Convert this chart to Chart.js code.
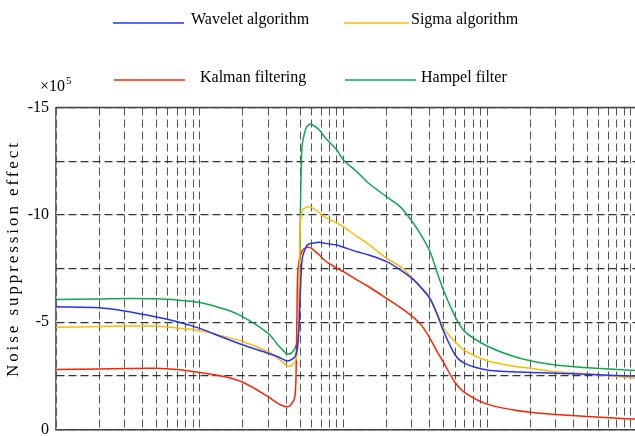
<!DOCTYPE html>
<html>
<head>
<meta charset="utf-8">
<script src="https://cdn.jsdelivr.net/npm/chart.js@4.4.1/dist/chart.umd.min.js"></script>
<style>
  html, body { margin: 0; padding: 0; background: #fff; }
</style>
</head>
<body>
<canvas id="noise-chart" width="635" height="436"></canvas>
<script>
// x positions (log axis, no labels shown)
const xValues = [1, 2, 3, 5, 7, 10, 15, 20, 30, 35, 40, 43, 46, 47, 48, 49, 50, 51, 52, 55, 57, 60, 68, 75, 90, 100,
    125, 150, 200, 250, 300, 350, 400, 450, 500, 600, 700, 1000, 1500, 2000, 3000, 5000, 10000, 10700];

// values in units of 1e5
const wavelet = [-5.72, -5.67, -5.52, -5.24, -5.02, -4.71, -4.25, -3.94, -3.55, -3.39, -3.20, -3.24, -3.39, -3.55, -3.86, -4.63,
    -6.19, -7.43, -8.05, -8.51, -8.63, -8.67, -8.72, -8.67, -8.59, -8.49, -8.28, -8.13, -7.82, -7.43, -7.04, -6.58, -6.10,
    -5.35, -4.55, -3.47, -3.08, -2.77, -2.69, -2.66, -2.62, -2.57, -2.49, -2.49];
const sigma = [-4.76, -4.80, -4.82, -4.82, -4.73, -4.61, -4.32, -4.09, -3.62, -3.32, -3.00, -2.96, -3.16, -3.32, -3.70, -5.57,
    -9.45, -10.07, -10.22, -10.35, -10.38, -10.35, -10.10, -9.88, -9.62, -9.45, -8.98, -8.62, -7.97, -7.58, -7.08, -6.62, -6.14,
    -5.41, -4.70, -4.09, -3.67, -3.20, -2.96, -2.85, -2.69, -2.59, -2.41, -2.40];
const kalman = [-2.80, -2.82, -2.84, -2.85, -2.79, -2.66, -2.46, -2.20, -1.53, -1.22, -1.06, -1.14, -1.53, -3.24, -7.12, -7.82,
    -8.05, -8.23, -8.36, -8.47, -8.49, -8.44, -8.13, -7.85, -7.52, -7.35, -6.96, -6.65, -6.11, -5.68, -5.28, -4.85, -4.25,
    -3.62, -3.10, -2.18, -1.72, -1.18, -0.92, -0.80, -0.70, -0.60, -0.49, -0.49];
const hampel = [-6.06, -6.08, -6.10, -6.09, -6.03, -5.92, -5.60, -5.25, -4.48, -3.94, -3.55, -3.54, -3.78, -3.94, -4.17, -5.10,
    -9.29, -12.55, -13.39, -14.04, -14.18, -14.22, -13.95, -13.58, -13.02, -12.55, -11.99, -11.47, -10.84, -10.36, -9.70, -9.02,
    -8.30, -7.30, -6.45, -5.25, -4.56, -3.89, -3.42, -3.20, -3.00, -2.88, -2.76, -2.75];

const yTicks = [-15, -12.5, -10, -7.5, -5, -2.5, 0];
const yLabelled = [-15, -10, -5, 0];

const seriesNames = ['Wavelet algorithm', 'Sigma algorithm', 'Kalman filtering', 'Hampel filter'];
const seriesColors = ['#2233ff', '#ffbb00', '#ff2200', '#10a84c'];

const serif = '"Liberation Serif", "Times New Roman", serif';

// log grid: 1..9 in each decade, up to 1e4
const xGrid = [];
for (let d = 1; d <= 1000; d *= 10) {
    for (let k = 1; k <= 9; k++) xGrid.push(k * d);
}
xGrid.push(10000);

const toPoints = arr => arr.map((v, i) => ({ x: xValues[i], y: v }));

const legendSpots = [
    { x1: 113, x2: 184, ly: 23, tx: 191, ty: 20 },
    { x1: 344, x2: 409, ly: 23, tx: 411, ty: 20 },
    { x1: 114, x2: 185, ly: 80, tx: 200, ty: 78 },
    { x1: 345, x2: 416, ly: 80, tx: 421, ty: 78 }
];

const decorPlugin = {
    id: 'decor',
    afterDraw(chart) {
        const ctx = chart.ctx;
        const area = chart.chartArea;

        // solid top frame line
        ctx.save();
        ctx.strokeStyle = '#444';
        ctx.lineWidth = 1.5;
        ctx.beginPath();
        ctx.moveTo(area.left, area.top);
        ctx.lineTo(area.right, area.top);
        ctx.stroke();
        ctx.restore();

        // legend
        ctx.save();
        ctx.font = '16px ' + serif;
        ctx.textBaseline = 'middle';
        chart.data.datasets.forEach((ds, i) => {
            const s = legendSpots[i];
            ctx.strokeStyle = ds.borderColor;
            ctx.lineWidth = 1.5;
            ctx.beginPath();
            ctx.moveTo(s.x1, s.ly);
            ctx.lineTo(s.x2, s.ly);
            ctx.stroke();
            ctx.fillStyle = '#000';
            ctx.fillText(ds.label, s.tx, s.ty);
        });
        ctx.restore();

        // x10^5 multiplier
        ctx.save();
        ctx.fillStyle = '#000';
        ctx.textBaseline = 'middle';
        ctx.font = '16px ' + serif;
        ctx.fillText('\u00d710', 40, 87);
        ctx.font = '11px ' + serif;
        ctx.fillText('5', 66, 81);
        ctx.restore();

        // y axis title
        ctx.save();
        ctx.fillStyle = '#000';
        ctx.font = '17px ' + serif;
        const title = 'Noise suppression effect';
        const plain = ctx.measureText(title).width;
        ctx.letterSpacing = ((234 - plain) / (title.length - 1)).toFixed(2) + 'px';
        ctx.translate(14, 260);
        ctx.rotate(-Math.PI / 2);
        ctx.textBaseline = 'middle';
        ctx.textAlign = 'left';
        ctx.fillText(title, -117, 0);
        ctx.restore();
    }
};

new Chart(document.getElementById('noise-chart'), {
    type: 'line',
    data: {
        datasets: [wavelet, sigma, kalman, hampel].map((arr, i) => ({
            label: seriesNames[i],
            data: toPoints(arr),
            borderColor: seriesColors[i],
            borderWidth: 1.5,
            pointRadius: 0,
            fill: false,
            tension: 0.3
        }))
    },
    options: {
        responsive: false,
        animation: false,
        layout: { padding: { top: 107.5, bottom: 6.5, left: 0, right: 0 } },
        plugins: {
            legend: { display: false },
            tooltip: { enabled: false }
        },
        scales: {
            x: {
                type: 'logarithmic',
                min: 1,
                max: 10700,
                afterBuildTicks: scale => { scale.ticks = xGrid.map(v => ({ value: v })); },
                afterFit: scale => { scale.height = 0; scale.paddingLeft = 0; scale.paddingRight = 0; },
                ticks: { display: false },
                grid: { color: '#555', lineWidth: 1, drawTicks: false },
                border: { display: true, color: '#444', width: 1.5, dash: [8, 4] }
            },
            y: {
                min: -15,
                max: 0,
                reverse: true,
                afterBuildTicks: scale => { scale.ticks = yTicks.map(v => ({ value: v })); },
                afterFit: scale => { scale.width = 56; scale.paddingTop = 0; scale.paddingBottom = 0; },
                ticks: {
                    padding: 7,
                    color: '#000',
                    font: { family: serif, size: 16 },
                    callback: v => yLabelled.includes(v) ? String(v) : ''
                },
                grid: { color: '#333', lineWidth: 1.2, drawTicks: false },
                border: { display: true, color: '#666', width: 1.5, dash: [8, 4] }
            }
        }
    },
    plugins: [decorPlugin]
});
</script>
</body>
</html>
